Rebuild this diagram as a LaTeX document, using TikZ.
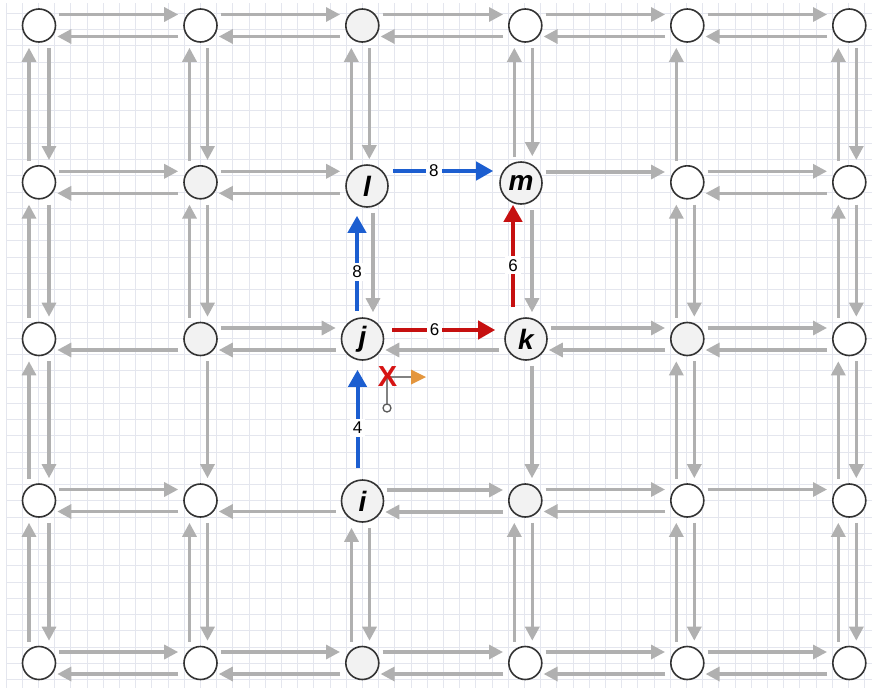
\documentclass[tikz,border=0pt]{standalone}
\usepackage{fontspec}
\setmainfont{Liberation Sans}
\usetikzlibrary{arrows.meta,calc}

\definecolor{edgegray}{RGB}{176,176,176}
\definecolor{ringgray}{RGB}{51,51,51}
\definecolor{shade}{RGB}{242,242,242}
\definecolor{pathblue}{RGB}{28,94,208}
\definecolor{pathred}{RGB}{198,16,16}
\definecolor{gridline}{RGB}{228,230,238}
\definecolor{axisorange}{RGB}{228,150,62}
\definecolor{axisgray}{RGB}{130,130,130}
\definecolor{markred}{RGB}{214,20,20}

\tikzset{
  vtx/.style={circle, draw=ringgray, line width=1.6pt, fill=white,
    minimum size=33pt, inner sep=0pt},
  vtxs/.style={vtx, fill=shade},
  named/.style={vtx, fill=shade, minimum size=42pt,
    font=\fontsize{28}{28}\selectfont\bfseries\itshape},
  garr/.style={draw=edgegray, line width=3.2pt,
    -{Triangle[length=14pt,width=14pt]}},
  barr/.style={draw=pathblue, line width=4pt,
    -{Triangle[length=17pt,width=18pt]}},
  rarr/.style={draw=pathred, line width=4pt,
    -{Triangle[length=17pt,width=18pt]}},
  wlbl/.style={fill=white, inner sep=3pt, text=black, pos=0.41,
    font=\fontsize{17}{17}\selectfont},
}

% rightward link (upper track) from left node #2 to right node #3, y offset #4
\newcommand\linkR[4][garr]{\draw[#1] ($(#2.east)+(3,#4)$) -- ($(#3.west |- #2)+(-5,#4)$);}
% leftward link (lower track) from right node #3 back to left node #2
\newcommand\linkL[4][garr]{\draw[#1] ($(#3.west |- #2)+(-5,#4)$) -- ($(#2.east)+(1,#4)$);}
% upward link from lower node #3 to upper node #2, x offset #4
\newcommand\linkU[4][garr]{\draw[#1] ($(#3.north -| #2)+(#4,-4)$) -- ($(#2.south)+(#4,5)$);}
% downward link from upper node #2 to lower node #3
\newcommand\linkD[4][garr]{\draw[#1] ($(#2.south)+(#4,5)$) -- ($(#3.north -| #2)+(#4,-5)$);}
\newcommand\hboth[2]{\linkR{#1}{#2}{-11}\linkL{#1}{#2}{11}}
\newcommand\vboth[2]{\linkU{#1}{#2}{-11}\linkD{#1}{#2}{7}}
\newcommand\vbothw[2]{\linkU{#1}{#2}{-10}\linkD{#1}{#2}{10}}

\begin{document}
\begin{tikzpicture}[x=1pt,y=-1pt]
\useasboundingbox (0,0) rectangle (875,691);
\fill[white] (0,0) rectangle (875,691);

% background grid
\foreach \g in {0,...,53}
  \draw[gridline, line width=0.8pt] ({6+16.2*\g},3) -- ({6+16.2*\g},688);
\foreach \g in {0,...,41}
  \draw[gridline, line width=0.8pt] (6,{13.3+16.25*\g}) -- (872,{13.3+16.25*\g});

% row 0
\node[vtx]  (n00) at (39,25.5) {};
\node[vtx]  (n10) at (200.5,25.5) {};
\node[vtxs] (n20) at (362.3,25.5) {};
\node[vtx]  (n30) at (525.3,25.5) {};
\node[vtx]  (n40) at (687.3,25.5) {};
\node[vtx]  (n50) at (849.3,25.5) {};
% row 1
\node[vtx]  (n01) at (39,182.3) {};
\node[vtxs] (n11) at (200.5,182.3) {};
\node[named] (l) at (367,186) {l};
\node[named] (m) at (521,183) {m};
\node[vtx]  (n41) at (687.3,182.3) {};
\node[vtx]  (n51) at (849.3,182.3) {};
% row 2
\node[vtx]  (n02) at (39,339) {};
\node[vtxs] (n12) at (200.5,339) {};
\node[named] (j) at (362.5,339) {j};
\node[named] (k) at (526,339) {k};
\node[vtxs] (n42) at (687.3,339) {};
\node[vtx]  (n52) at (849.3,339) {};
% row 3
\node[vtx]  (n03) at (39,500.5) {};
\node[vtx]  (n13) at (200.5,500.5) {};
\node[named] (i) at (362.5,501) {i};
\node[vtxs] (n33) at (525.3,500.5) {};
\node[vtx]  (n43) at (687.3,500.5) {};
\node[vtx]  (n53) at (849.3,500.5) {};
% row 4
\node[vtx]  (n04) at (39,663) {};
\node[vtx]  (n14) at (200.5,663) {};
\node[vtxs] (n24) at (362.3,663) {};
\node[vtx]  (n34) at (525.3,663) {};
\node[vtx]  (n44) at (687.3,663) {};
\node[vtx]  (n54) at (849.3,663) {};

% horizontal links
\hboth{n00}{n10}\hboth{n10}{n20}\hboth{n20}{n30}\hboth{n30}{n40}\hboth{n40}{n50}
\hboth{n01}{n11}\hboth{n11}{l}\linkR{m}{n41}{-11}\hboth{n41}{n51}
\linkL{n02}{n12}{11}\hboth{n12}{j}\linkL{j}{k}{11}\hboth{k}{n42}\hboth{n42}{n52}
\hboth{n03}{n13}\linkL{n13}{i}{11}\hboth{i}{n33}\hboth{n33}{n43}\linkR{n43}{n53}{-11}
\hboth{n04}{n14}\hboth{n14}{n24}\hboth{n24}{n34}\hboth{n34}{n44}\hboth{n44}{n54}

% vertical links
\vbothw{n00}{n01}\vbothw{n01}{n02}\vbothw{n02}{n03}\vbothw{n03}{n04}
\vboth{n10}{n11}\vboth{n11}{n12}\linkD{n12}{n13}{7}\vboth{n13}{n14}
\vboth{n20}{l}\linkD{l}{j}{6}\vboth{i}{n24}
\vboth{n30}{m}\linkD{m}{k}{11}\linkD{k}{n33}{6}\vboth{n33}{n34}
\linkU{n40}{n41}{-11}\vboth{n41}{n42}\vboth{n42}{n43}\vboth{n43}{n44}
\vboth{n50}{n51}\vboth{n51}{n52}\vboth{n52}{n53}\vboth{n53}{n54}

% weighted path links
\draw[barr] ($(l.east)+(4,-15)$) -- node[wlbl]{8} ($(m.west |- l)+(-6,-15)$);
\draw[barr] ($(j.north -| l)+(-10,-6)$) -- node[wlbl]{8} ($(l.south)+(-10,8)$);
\draw[barr] ($(i.north -| j)+(-5,-11)$) -- node[wlbl]{4} ($(j.south)+(-5,9)$);
\draw[rarr] ($(j.east)+(8,-9)$) -- node[wlbl]{6} ($(k.west |- j)+(-9,-9)$);
\draw[rarr] ($(k.north -| m)+(-8,-10)$) -- node[wlbl]{6} ($(m.south)+(-8,0)$);

% axis marker
\coordinate (ax) at (387,377);
\coordinate (axr) at (411,377);
\coordinate (axd) at (387,404.5);
\draw[axisgray, line width=2.2pt] (ax) -- (axr);
\draw[axisgray, line width=2.2pt] (ax) -- (axd);
\fill[axisorange] ($(axr)+(0,-7.5)$) -- ($(axr)+(15,0)$) -- ($(axr)+(0,7.5)$) -- cycle;
\node[circle, draw=ringgray!80, fill=white, line width=1.3pt, minimum size=8pt, inner sep=0pt] (axo) at (387,408) {};
\node[text=markred, font=\fontsize{29}{29}\selectfont\bfseries, inner sep=0pt] (xmark) at (387.5,376.5) {X};
\end{tikzpicture}
\end{document}
